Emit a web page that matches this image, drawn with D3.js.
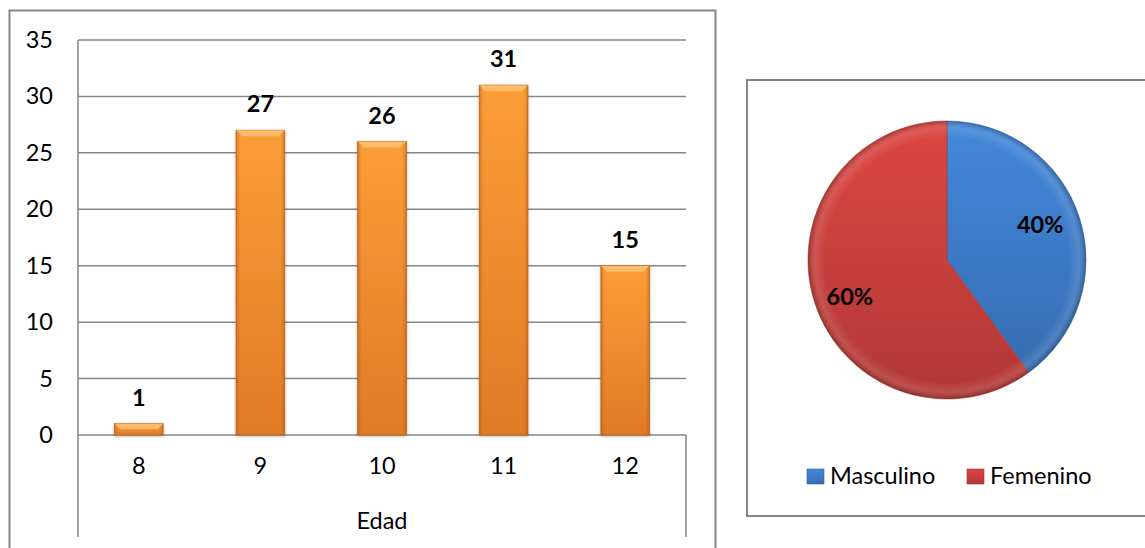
<!DOCTYPE html>
<html>
<head>
<meta charset="utf-8">
<script src="https://cdn.jsdelivr.net/npm/d3@7"></script>
<style>
  html, body { margin: 0; padding: 0; background: #fff; }
  svg { display: block; }
  text { font-family: Lato, "Noto Sans", sans-serif; fill: #000; }
</style>
</head>
<body>
<svg id="chart" width="1145" height="548"></svg>
<script>
// Edad (age) distribution
const ages = ["8", "9", "10", "11", "12"];
const ageCounts = [1, 27, 26, 31, 15];
const yTicks = [0, 5, 10, 15, 20, 25, 30, 35];
const axisTitle = "Edad";

// Sexo distribution
const sexLabels = ["Masculino", "Femenino"];
const sexShares = [40, 60];
const sexColors = ["#3d7cc8", "#c9403c"];

const svg = d3.select("#chart");
const defs = svg.append("defs");
const fontSize = 23.5;

// ---------- gradients ----------
const barGrad = defs.append("linearGradient").attr("id", "barV")
  .attr("x1", 0).attr("y1", 0).attr("x2", 0).attr("y2", 1);
barGrad.append("stop").attr("offset", "0%").attr("stop-color", "#fb9d37");
barGrad.append("stop").attr("offset", "100%").attr("stop-color", "#e07b27");

const edgeGrad = defs.append("linearGradient").attr("id", "barH")
  .attr("x1", 0).attr("y1", 0).attr("x2", 1).attr("y2", 0);
edgeGrad.append("stop").attr("offset", "0%").attr("stop-color", "#a85410").attr("stop-opacity", 0.45);
edgeGrad.append("stop").attr("offset", "8%").attr("stop-color", "#a85410").attr("stop-opacity", 0.0);
edgeGrad.append("stop").attr("offset", "92%").attr("stop-color", "#a85410").attr("stop-opacity", 0.0);
edgeGrad.append("stop").attr("offset", "100%").attr("stop-color", "#a85410").attr("stop-opacity", 0.45);

const shadow = defs.append("filter").attr("id", "shadow")
  .attr("x", "-20%").attr("y", "-20%").attr("width", "140%").attr("height", "140%");
shadow.append("feDropShadow").attr("dx", 0).attr("dy", 1).attr("stdDeviation", 1.5)
  .attr("flood-color", "#000").attr("flood-opacity", 0.3);

sexColors.forEach((c, i) => {
  const g = defs.append("linearGradient").attr("id", "slice" + i)
    .attr("x1", 0).attr("y1", 0).attr("x2", 0).attr("y2", 1);
  g.append("stop").attr("offset", "0%").attr("stop-color", d3.color(c).brighter(0.25));
  g.append("stop").attr("offset", "100%").attr("stop-color", d3.color(c).darker(0.35));
});
const rim = defs.append("radialGradient").attr("id", "rim")
  .attr("cx", "50%").attr("cy", "50%").attr("r", "50%");
rim.append("stop").attr("offset", "88%").attr("stop-color", "#fff").attr("stop-opacity", 0);
rim.append("stop").attr("offset", "95%").attr("stop-color", "#fff").attr("stop-opacity", 0.12);
rim.append("stop").attr("offset", "100%").attr("stop-color", "#000").attr("stop-opacity", 0.22);

const lineColor = "#868686";

// ---------- bar chart ----------
svg.append("rect")
  .attr("x", 9.5).attr("y", 10.5).attr("width", 706).attr("height", 560)
  .attr("fill", "none").attr("stroke", lineColor).attr("stroke-width", 2);

const plot = { left: 78, right: 686, top: 40, bottom: 435, axisBottom: 537 };

const x = d3.scaleBand().domain(ages).range([plot.left, plot.right])
  .paddingInner(0.6).paddingOuter(0.3);
const y = d3.scaleLinear().domain([0, 35]).range([plot.bottom, plot.top]);

// gridlines
svg.append("g").selectAll("line").data(yTicks).join("line")
  .attr("x1", plot.left).attr("x2", plot.right)
  .attr("y1", d => y(d)).attr("y2", d => y(d))
  .attr("stroke", lineColor).attr("stroke-width", 1.5);

// axis frame: vertical axis running down through the category band, and right end
svg.append("line").attr("x1", plot.left).attr("x2", plot.left)
  .attr("y1", plot.top).attr("y2", plot.axisBottom)
  .attr("stroke", lineColor).attr("stroke-width", 1.5);
svg.append("line").attr("x1", plot.right).attr("x2", plot.right)
  .attr("y1", plot.bottom).attr("y2", plot.axisBottom)
  .attr("stroke", lineColor).attr("stroke-width", 1.5);

// y tick labels
const yAxis = d3.axisLeft(y).tickValues(yTicks).tickSize(0).tickPadding(25);
const yg = svg.append("g").attr("transform", `translate(${plot.left},0)`).call(yAxis);
yg.select(".domain").remove();
yg.selectAll("text").attr("font-size", fontSize).attr("fill", "#000")
  .style("font-family", "Lato, 'Noto Sans', sans-serif");

// x tick labels
const xAxis = d3.axisBottom(x).tickSize(0).tickPadding(22);
const xg = svg.append("g").attr("transform", `translate(0,${plot.bottom})`).call(xAxis);
xg.select(".domain").remove();
xg.selectAll("text").attr("font-size", fontSize).attr("fill", "#000")
  .style("font-family", "Lato, 'Noto Sans', sans-serif");

svg.append("text").attr("x", (plot.left + plot.right) / 2).attr("y", 529)
  .attr("text-anchor", "middle").attr("font-size", fontSize).text(axisTitle);

// bars
const bars = svg.append("g").selectAll("g").data(ages.map((a, i) => ({ a, v: ageCounts[i] })))
  .join("g");
bars.append("rect")
  .attr("x", d => x(d.a)).attr("y", d => y(d.v))
  .attr("width", x.bandwidth()).attr("height", d => y(0) - y(d.v))
  .attr("fill", "url(#barV)").attr("stroke", "#c0661c").attr("stroke-width", 0.8)
  .attr("filter", "url(#shadow)");
bars.append("rect")
  .attr("x", d => x(d.a)).attr("y", d => y(d.v))
  .attr("width", x.bandwidth()).attr("height", d => y(0) - y(d.v))
  .attr("fill", "url(#barH)");
// bevelled top face
bars.append("path")
  .attr("d", d => {
    const x0 = x(d.a), x1 = x0 + x.bandwidth(), t = y(d.v);
    const h = Math.min(6, (y(0) - t) / 2);
    return `M${x0},${t}L${x1},${t}L${x1 - h},${t + h}L${x0 + h},${t + h}Z`;
  })
  .attr("fill", "#ffc77a").attr("opacity", 0.75);

// value labels
bars.append("text")
  .attr("x", d => x(d.a) + x.bandwidth() / 2).attr("y", d => y(d.v) - 18)
  .attr("text-anchor", "middle").attr("font-size", fontSize).attr("font-weight", 700)
  .text(d => d.v);

// ---------- pie chart ----------
svg.append("rect")
  .attr("x", 747).attr("y", 80).attr("width", 410).attr("height", 436)
  .attr("fill", "none").attr("stroke", lineColor).attr("stroke-width", 2);

const cx = 947, cy = 260, r = 139;
const pie = d3.pie().sort(null).value(d => d)(sexShares);
const arc = d3.arc().innerRadius(0).outerRadius(r);
const labelArc = d3.arc().innerRadius(r * 0.72).outerRadius(r * 0.72);

const pg = svg.append("g").attr("transform", `translate(${cx},${cy})`);
pg.selectAll("path.slice").data(pie).join("path").attr("class", "slice")
  .attr("d", arc).attr("fill", (d, i) => `url(#slice${i})`)
  .attr("stroke", (d, i) => d3.color(sexColors[i]).darker(0.4)).attr("stroke-width", 0.6);
pg.append("circle").attr("r", r).attr("fill", "url(#rim)");
pg.selectAll("text").data(pie).join("text")
  .attr("transform", d => {
    const [lx, ly] = labelArc.centroid(d);
    return `translate(${lx - 2},${ly + (ly > 0 ? 6 : -4)})`;
  })
  .attr("text-anchor", "middle").attr("dy", "0.35em")
  .attr("font-size", fontSize).attr("font-weight", 700)
  .text(d => d.data + "%");

// legend
const legendX = [807, 967];
const lg = svg.append("g").selectAll("g").data(sexLabels).join("g")
  .attr("transform", (d, i) => `translate(${legendX[i]},469)`);
lg.append("rect").attr("width", 17).attr("height", 15)
  .attr("fill", (d, i) => `url(#slice${i})`)
  .attr("stroke", (d, i) => d3.color(sexColors[i]).darker(0.6)).attr("stroke-width", 0.6);
lg.append("text").attr("x", 23).attr("y", 15).attr("font-size", fontSize).text(d => d);
</script>
</body>
</html>
